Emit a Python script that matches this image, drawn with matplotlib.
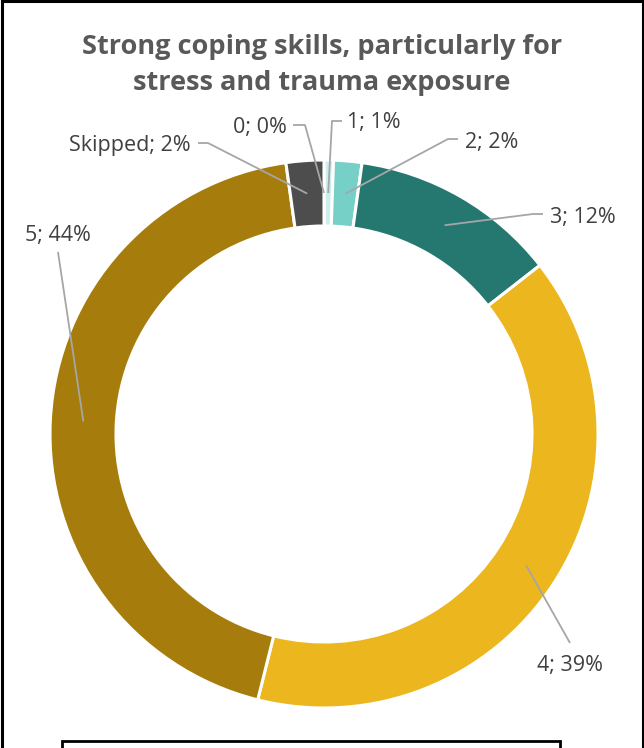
import numpy as np
import matplotlib
matplotlib.use('Agg')
import matplotlib.pyplot as plt
from matplotlib.patches import Rectangle

W, H = 644, 748

categories = ['0', '1', '2', '3', '4', '5', 'Skipped']
counts = [0, 1, 3, 22, 71, 79, 4]
colors = ['#e8f6f5', '#cdeeed', '#76d0c8', '#257870', '#ecb61f', '#a67c0c', '#4d4d4d']

# label text position (pixels, y down), alignment, elbow point of the leader line
label_pos = {
	'0':       ((287, 127), 'right', (305, 125)),
	'1':       ((347, 122), 'left',  (332, 121)),
	'2':       ((465, 142), 'left',  (448, 139)),
	'3':       ((550, 217), 'left',  (533, 214)),
	'4':       ((570, 665), 'center', (570, 643)),
	'5':       ((58, 235),  'center', (58, 252)),
	'Skipped': ((191, 145), 'right', (208, 143)),
}
label_start = {
	'0': (293, 125), '1': (342, 121), '2': (458, 139), '3': (543, 214),
	'Skipped': (198, 143),
}

plt.rcParams['font.family'] = ['Open Sans', 'DejaVu Sans']

fig = plt.figure(figsize=(W / 100, H / 100), dpi=100)
ax = fig.add_axes([0, 0, 1, 1])

cx, cy = 324, H - 434
r_out = 274
ring = 66

wedges, _ = ax.pie(counts, colors=colors, startangle=90, counterclock=False,
	radius=r_out, center=(cx, cy), frame=True,
	wedgeprops=dict(width=ring, edgecolor='white', linewidth=2.2))
ax.set_xlim(0, W)
ax.set_ylim(0, H)
ax.set_aspect('equal')
ax.set_axis_off()

total = sum(counts)
r_mid = r_out - ring / 2
lead = '#a6a6a6'
for cat, w, n in zip(categories, wedges, counts):
	ang = np.deg2rad((w.theta1 + w.theta2) / 2)
	ax_pt = (cx + r_mid * np.cos(ang), cy + r_mid * np.sin(ang))
	(tx, ty), ha, (ex, ey) = label_pos[cat]
	xs = [ax_pt[0], ex]
	ys = [ax_pt[1], H - ey]
	if cat in label_start:
		sx, sy = label_start[cat]
		xs.append(sx)
		ys.append(H - sy)
	ax.plot(xs, ys, color=lead, lw=1.3, solid_capstyle='butt')
	pct = round(100 * n / total)
	ax.text(tx, H - ty, f'{cat}; {pct}%', ha=ha, va='center', fontsize=15.5, color='#404040')

fig.text(0.5, 1 - 65 / H, 'Strong coping skills, particularly for\nstress and trauma exposure',
	ha='center', va='center', fontsize=19.5, fontweight='bold', color='#595959', linespacing=1.45)

# outer frame and the top of the legend box below the chart
fig.patches.append(Rectangle((1.5 / W, -0.1), 1 - 3 / W, 1.1 - 1.5 / H, transform=fig.transFigure,
	fill=False, edgecolor='black', lw=2.2))
fig.patches.append(Rectangle((62 / W, -0.1), (560 - 62) / W, 0.1 + (H - 741) / H, transform=fig.transFigure,
	fill=False, edgecolor='black', lw=2))

fig.savefig('out.png', dpi=100)
